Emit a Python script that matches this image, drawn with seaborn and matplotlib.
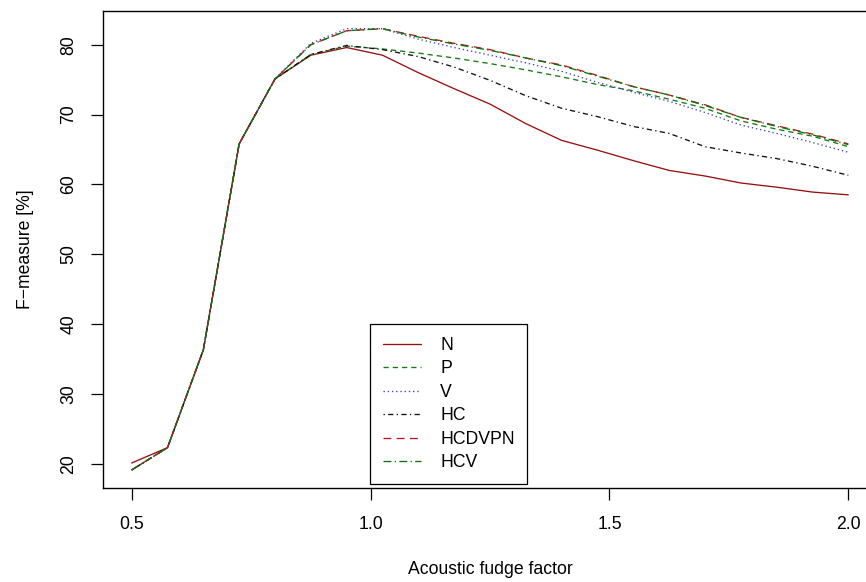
import numpy as np
import pandas as pd
import matplotlib
matplotlib.use("Agg")
import matplotlib.pyplot as plt
import seaborn as sns

# ---- data -------------------------------------------------------------
fudge = [0.5, 0.575, 0.65, 0.725, 0.8, 0.875, 0.95, 1.025, 1.1, 1.175, 1.25,
         1.325, 1.4, 1.475, 1.55, 1.625, 1.7, 1.775, 1.85, 1.925, 2.0]

N = [20.1, 22.3, 36.3, 65.8, 75.1, 78.5, 79.6, 78.5, 76.0, 73.7, 71.5,
     68.7, 66.3, 64.9, 63.4, 62.0, 61.2, 60.2, 59.6, 58.9, 58.5]
P = [19.1, 22.3, 36.3, 65.8, 75.1, 78.6, 79.8, 79.4, 78.8, 78.1, 77.3,
     76.4, 75.4, 74.3, 73.4, 72.2, 70.9, 69.1, 67.9, 66.9, 65.4]
V = [19.1, 22.3, 36.3, 65.8, 75.1, 80.2, 82.3, 82.3, 80.8, 79.6, 78.5,
     77.4, 76.2, 74.6, 73.2, 71.9, 70.3, 68.5, 67.3, 66.0, 64.6]
HC = [19.1, 22.3, 36.3, 65.8, 75.1, 78.6, 79.9, 79.3, 78.3, 76.8, 74.9,
      72.7, 70.9, 69.7, 68.3, 67.3, 65.4, 64.5, 63.7, 62.6, 61.3]
HCDVPN = [19.1, 22.3, 36.3, 65.8, 75.1, 80.0, 82.0, 82.3, 81.2, 80.2, 79.3,
          78.1, 77.1, 75.6, 74.0, 72.8, 71.4, 69.6, 68.4, 67.2, 65.8]
HCV = [19.1, 22.3, 36.3, 65.8, 75.1, 80.0, 82.0, 82.3, 81.1, 80.1, 79.2,
       78.1, 77.0, 75.5, 74.0, 72.8, 71.3, 69.6, 68.3, 67.1, 65.7]

series_names = ["N", "P", "V", "HC", "HCDVPN", "HCV"]
series_values = [N, P, V, HC, HCDVPN, HCV]

x_ticks = [0.5, 1.0, 1.5, 2.0]
x_tick_labels = ["0.5", "1.0", "1.5", "2.0"]
y_ticks = [20, 30, 40, 50, 60, 70, 80]

# ---- style ------------------------------------------------------------
sns.set_theme(style="white")
plt.rcParams["font.family"] = ["Liberation Sans", "DejaVu Sans"]
plt.rcParams["axes.unicode_minus"] = True
plt.rcParams["text.color"] = "black"
plt.rcParams["axes.labelcolor"] = "black"
plt.rcParams["xtick.color"] = "black"
plt.rcParams["ytick.color"] = "black"

colors = {"N": "#991010", "P": "#137a13", "V": "#3a3ad0", "HC": "#111111",
          "HCDVPN": "#c01818", "HCV": "#0f700f"}
dashes = {"N": (None, None), "P": (4, 3), "V": (1, 2.2), "HC": (1, 2.5, 4, 2.5),
          "HCDVPN": (6, 4), "HCV": (6, 2.5, 1, 2.5)}

fig = plt.figure(figsize=(8.66, 5.82), dpi=100)
W, H = 866, 582
ax = fig.add_axes([103 / W, 94 / H, (877 - 103) / W, (571 - 94) / H])

for name, vals in zip(series_names, series_values):
    d = pd.DataFrame({"fudge": fudge, "F": vals})
    sns.lineplot(data=d, x="fudge", y="F", ax=ax, color=colors[name],
                 linewidth=0.95, label=name, legend=False)
    ln = ax.lines[-1]
    if dashes[name][0] is not None:
        ln.set_dashes(dashes[name])

ax.set_xlim(0.44, 2.06)
ax.set_ylim(16.52, 84.83)
ax.set_xticks(x_ticks)
ax.set_xticklabels(x_tick_labels)
ax.set_yticks(y_ticks)
ax.set_yticklabels([str(v) for v in y_ticks], rotation=90, va="center")

fs = 12.7
ax.tick_params(axis="both", which="major", direction="out", length=8.5,
               width=0.9, color="black", labelcolor="black", labelsize=fs,
               bottom=True, left=True)
ax.tick_params(axis="x", pad=12)
ax.tick_params(axis="y", pad=10)
for s in ax.spines.values():
    s.set_color("black")
    s.set_linewidth(1.0)

ax.set_xlabel("Acoustic fudge factor", fontsize=fs, labelpad=19.5, color="black")
ax.set_ylabel("F\u2212measure [%]", fontsize=fs, labelpad=19, color="black")

handles = ax.lines
leg = ax.legend(handles, series_names, loc="upper left",
                bbox_to_anchor=(370 / W, 1 - 324 / H), bbox_transform=fig.transFigure,
                borderaxespad=0, fancybox=False, frameon=True, fontsize=fs,
                handlelength=2.15, handletextpad=1.1, labelspacing=0.37,
                borderpad=0.72, framealpha=1)
leg.get_frame().set_edgecolor("black")
leg.get_frame().set_linewidth(0.9)

fig.savefig("out.png", dpi=100)
